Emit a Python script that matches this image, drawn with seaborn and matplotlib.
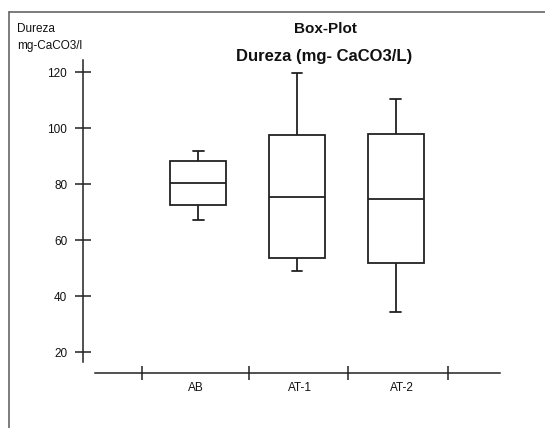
import numpy as np
import pandas as pd
import matplotlib
matplotlib.use("Agg")
import matplotlib.pyplot as plt
import seaborn as sns
from matplotlib.lines import Line2D

# ---- data ----
groups = ["AB", "AT-1", "AT-2"]
whisker_low = [67.4, 49.0, 34.3]
q1 = [72.6, 53.6, 52.0]
median = [80.6, 75.4, 74.9]
q3 = [88.4, 97.5, 97.9]
whisker_high = [91.8, 119.6, 110.4]
y_ticks = [20, 40, 60, 80, 100, 120]

rows = []
for g, a, b, c, d, e in zip(groups, whisker_low, q1, median, q3, whisker_high):
    for v in (a, b, c, d, e):
        rows.append({"grupo": g, "valor": v})
df = pd.DataFrame(rows)

sns.set_style("white")
plt.rcParams["font.family"] = ["Liberation Sans", "DejaVu Sans"]

W, H = 545, 428
fig = plt.figure(figsize=(W / 100, H / 100), dpi=100)
ax = fig.add_axes([83.3 / W, 1 - 373.3 / H, (500 - 83.3) / W, (373.3 - 60) / H])

sns.boxplot(data=df, x="grupo", y="valor", order=groups, ax=ax,
            color="white", linecolor="#222222", linewidth=1.3,
            width=0.57, whis=np.inf, capwidths=0.11)

ax.set_xlim(-1.165, 3.057)
ax.set_ylim(12.5, 124.4)

for s in ("top", "right"):
    ax.spines[s].set_visible(False)
ax.spines["left"].set_bounds(16.6, 124.4)
ax.spines["bottom"].set_bounds(-1.047, 3.057)
for s in ("left", "bottom"):
    ax.spines[s].set_color("#222222")
    ax.spines[s].set_linewidth(1.1)

ax.set_yticks(y_ticks)
ax.set_yticklabels([str(t) for t in y_ticks])
ax.tick_params(axis="y", direction="inout", length=11.5, width=1.1,
               color="#222222", pad=5.8, labelsize=8.5, labelcolor="#111111", left=True)

ax.set_xticks([-0.573, 0.514, 1.520, 2.527])
ax.set_xticklabels([])
ax.set_xticks([-0.02, 1.03, 2.06], minor=True)
ax.set_xticklabels(groups, minor=True)
ax.tick_params(axis="x", which="major", direction="inout", length=9.8, width=1.1,
               color="#222222", bottom=True)
ax.tick_params(axis="x", which="minor", length=0, pad=6.3, labelsize=8.5,
               labelcolor="#111111")
ax.set_xlabel("")
ax.set_ylabel("")
ax.grid(False)

# frame lines
fig.add_artist(Line2D([9.3 / W, 1.0], [1 - 12.3 / H, 1 - 12.3 / H],
                      transform=fig.transFigure, color="#666666", lw=1.2))
fig.add_artist(Line2D([9.3 / W, 9.3 / W], [0.0, 1 - 12.3 / H],
                      transform=fig.transFigure, color="#666666", lw=1.2))

# texts
fig.text(17.5 / W, 1 - 29 / H, "Dureza", ha="left", va="center", fontsize=8.5, color="#111111")
fig.text(17.0 / W, 1 - 46.5 / H, "mg-CaCO3/l", ha="left", va="center", fontsize=8.5, color="#111111")
fig.text(325 / W, 1 - 29 / H, "Box-Plot", ha="center", va="center",
         fontsize=11, fontweight="bold", color="#111111")
fig.text(324 / W, 1 - 57 / H, "Dureza (mg- CaCO3/L)", ha="center", va="center",
         fontsize=12, fontweight="bold", color="#111111")

fig.savefig("out.png", dpi=100)
